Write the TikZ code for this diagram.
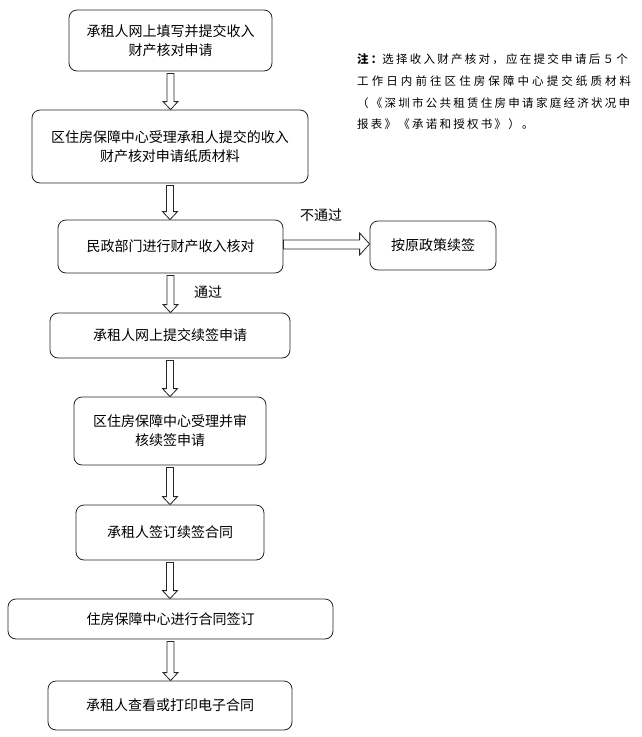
\documentclass[tikz,border=0pt]{standalone}
\usepackage{fontspec}
\newfontfamily\cjk{Noto Sans CJK SC}
\newfontfamily\cjknote{Noto Sans CJK SC}[LetterSpace=20]
\usetikzlibrary{calc}
\tikzset{
  stepbox/.style={draw=black!85, line width=0.8pt, rounded corners=8pt, align=center, inner sep=0pt},
  blkarrow/.style={draw=black!85, line width=0.8pt, fill=white, line join=miter},
  notetext/.style={anchor=west, inner sep=0pt, font=\cjknote\fontsize{11.5}{13}\selectfont}
}
\begin{document}
\begin{tikzpicture}[x=1pt, y=-1pt, font=\cjk\fontsize{14}{19}\selectfont]
  \useasboundingbox (0,0) rectangle (641,737);
  % flow boxes: name/x/y/width/height/text
  \foreach \nm/\cx/\cy/\w/\h/\txt in {
      b1/170.5/40.5/203/61/{承租人网上填写并提交收入\\财产核对申请},
      b2/170/146.5/276/73/{区住房保障中心受理承租人提交的收入\\财产核对申请纸质材料},
      b3/170.5/246.5/225/53/{民政部门进行财产收入核对},
      b4/433/245.5/126/49/{按原政策续签},
      b5/170/335.5/240/45/{承租人网上提交续签申请},
      b6/170/431/192/68/{区住房保障中心受理并审\\核续签申请},
      b7/170/532.5/188/55/{承租人签订续签合同},
      b8/170.5/619/325/40/{住房保障中心进行合同签订},
      b9/170/705.5/244/49/{承租人查看或打印电子合同}}
    \node[stepbox, minimum width=\w pt, minimum height=\h pt] (\nm) at (\cx,\cy) {\txt};
  % hollow block arrows downwards
  \foreach \a/\b in {b1/b2, b2/b3, b3/b5, b5/b6, b6/b7, b7/b8, b8/b9}
    \draw[blkarrow] let \p1=(\a.south), \p2=(\b.north) in
      (\x1-3.5pt,\y1-2pt) -- (\x1-3.5pt,\y2+8pt) -- (\x1-7.5pt,\y2+8pt) -- (\x1,\y2)
      -- (\x1+7.5pt,\y2+8pt) -- (\x1+3.5pt,\y2+8pt) -- (\x1+3.5pt,\y1-2pt) -- cycle;
  % branch to the right
  \draw[blkarrow] let \p1=(b3.east), \p2=(b4.west) in
    (\x1,\y2+5.5pt) -- (\x2-10pt,\y2+5.5pt) -- (\x2-10pt,\y2+12.5pt) -- (\x2,\y2+1.5pt)
    -- (\x2-10pt,\y2-9.5pt) -- (\x2-10pt,\y2-3.5pt) -- (\x1,\y2-3.5pt) -- cycle;
  \node (fail) at (321,215) {不通过};
  \node (pass) at (208,292) {通过};
  % note
  \foreach \ln/\ny/\ls/\txt in {
      n1/59/19.6/{{\bfseries 注：}选择收入财产核对，应在提交申请后５个},
      n2/81.5/26.8/{工作日内前往区住房保障中心提交纸质材料},
      n3/103/19.6/{（《深圳市公共租赁住房申请家庭经济状况申},
      n4/124.5/19.6/{报表》《承诺和授权书》）。}}
    \node[notetext] (\ln) at (357,\ny) {\addfontfeature{LetterSpace=\ls}\txt};
\end{tikzpicture}
\end{document}
